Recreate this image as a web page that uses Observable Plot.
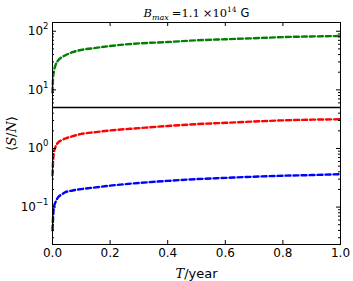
<!DOCTYPE html>
<html><head><meta charset="utf-8">
<script src="https://cdn.jsdelivr.net/npm/d3@7"></script>
<script src="https://cdn.jsdelivr.net/npm/@observablehq/plot@0.6"></script>
<style>
body{margin:0;background:#fff}
svg{display:block}
</style>
</head><body><div id="chart"></div>
<script>
// ---- data ----
const T = [0, 0.002, 0.005, 0.01, 0.02, 0.03, 0.045, 0.07, 0.1, 0.15, 0.2, 0.3, 0.4, 0.5, 0.6, 0.7, 0.8, 0.9, 1.0];
const snrGreen = [9, 16, 21, 26, 32, 35.5, 39, 44, 48, 52, 56, 62, 65.5, 70, 73, 76, 79.5, 81.5, 83];
const snrRed   = [0.35, 0.6, 0.85, 1.05, 1.27, 1.37, 1.48, 1.62, 1.77, 1.9, 2.03, 2.22, 2.42, 2.6, 2.74, 2.88, 3.02, 3.1, 3.15];
const snrBlue  = [0.04, 0.065, 0.1, 0.12, 0.148, 0.162, 0.18, 0.192, 0.203, 0.217, 0.232, 0.258, 0.28, 0.3, 0.315, 0.33, 0.343, 0.352, 0.365];
const threshold = 5;
const seriesNames = ["green", "red", "blue"];
const seriesColors = ["#008000", "#ff0000", "#0000ff"];
const xTicks = [0, 0.2, 0.4, 0.6, 0.8, 1.0];
const yTicks = [0.1, 1, 10, 100];
const yTickLabels = ["10^-1", "10^0", "10^1", "10^2"];
const yMinorTicks = [0.03,0.04,0.05,0.06,0.07,0.08,0.09,0.2,0.3,0.4,0.5,0.6,0.7,0.8,0.9,2,3,4,5,6,7,8,9,20,30,40,50,60,70,80,90];
const yDomain = [0.023, 141];
const xDomain = [0, 1];
const titleText = "B_max =1.1 ×10^14 G";
const xLabel = "T/year";
const yLabel = "⟨S/N⟩";

// ---- table ----
const rows = [];
[snrGreen, snrRed, snrBlue].forEach((vals, s) => {
  T.forEach((t, i) => rows.push({t, v: vals[i], series: seriesNames[s]}));
});

const W = 353, H = 281, mL = 52, mR = 13, mT = 22, mB = 37;
const innerW = W - mL - mR, innerH = H - mT - mB;
const major = 4, minor = 2;
const font = "DejaVu Sans, sans-serif";
const chart = Plot.plot({
  width: W, height: H,
  marginLeft: mL, marginRight: mR, marginTop: mT, marginBottom: mB,
  style: {fontFamily: font, fontSize: "12px", color: "#000", background: "#fff"},
  x: {domain: xDomain},
  y: {type: "log", domain: yDomain},
  color: {domain: seriesNames, range: seriesColors},
  marks: [
    Plot.ruleY([threshold], {stroke: "#000", strokeWidth: 1.5}),
    Plot.line(rows, {x: "t", y: "v", z: "series", stroke: "series", strokeWidth: 2.4, strokeDasharray: "5,3", curve: "monotone-x"}),
    // inward ticks on all four sides
    Plot.tickX(xTicks, {x: d => d, insetTop: innerH - major, stroke: "#000"}),
    Plot.tickX(xTicks, {x: d => d, insetBottom: innerH - major, stroke: "#000"}),
    Plot.tickY(yTicks, {y: d => d, insetRight: innerW - major, stroke: "#000"}),
    Plot.tickY(yTicks, {y: d => d, insetLeft: innerW - major, stroke: "#000"}),
    Plot.tickY(yMinorTicks, {y: d => d, insetRight: innerW - minor, stroke: "#000"}),
    Plot.tickY(yMinorTicks, {y: d => d, insetLeft: innerW - minor, stroke: "#000"}),
    Plot.frame({stroke: "#000", strokeWidth: 1}),
    // tick labels and axis titles
    Plot.axisX({ticks: xTicks, tickSize: 0, tickPadding: 4, tickFormat: d3.format(".1f"),
      label: xLabel, labelAnchor: "center", labelArrow: "none", labelOffset: 33, fontSize: 12}),
    Plot.axisY({ticks: yTicks, tickSize: 0, tickPadding: 4, tickFormat: (d) => yTickLabels[yTicks.indexOf(d)],
      label: yLabel, labelAnchor: "center", labelArrow: "none", labelOffset: 46, fontSize: 12}),
    Plot.text([titleText], {frameAnchor: "top", lineAnchor: "bottom", dy: -6, fontSize: 11.5})
  ]
});
document.getElementById("chart").appendChild(chart);

const svg = d3.select(chart);
// superscript tick labels
svg.selectAll('g[aria-label="y-axis tick label"] text').each(function() {
  const s = this.textContent;
  if (!s.includes("^")) return;
  const [base, exp] = s.split("^");
  const t = d3.select(this); t.text("");
  t.append("tspan").text(base);
  t.append("tspan").attr("dy", "-6px").attr("font-size", "8.5px").text(exp.replace("-", "\u2212"));
});
// y label with italic S, N
svg.selectAll('g[aria-label="y-axis label"] text').each(function() {
  const t = d3.select(this); t.text("").attr("font-size", "13px").attr("font-family", "DejaVu Serif, serif");
  t.append("tspan").text("⟨");
  t.append("tspan").attr("font-style", "italic").text("S");
  t.append("tspan").text("/");
  t.append("tspan").attr("font-style", "italic").text("N");
  t.append("tspan").text("⟩");
});
// x label with italic T
svg.selectAll('g[aria-label="x-axis label"] text').each(function() {
  const t = d3.select(this); t.text("").attr("font-size", "13px");
  t.append("tspan").attr("font-style", "italic").attr("font-family", "DejaVu Serif, serif").text("T");
  t.append("tspan").text("/year");
});
// title with subscript / superscript
svg.selectAll('g[aria-label="text"] text').each(function() {
  const t = d3.select(this); t.text("").attr("font-family", "DejaVu Serif, serif");
  t.append("tspan").attr("font-style", "italic").text("B");
  t.append("tspan").attr("font-style", "italic").attr("font-size", "8px").attr("dy", "3px").text("max");
  t.append("tspan").attr("dy", "-3px").attr("dx", "3px").text("=1.1");
  t.append("tspan").attr("dx", "3px").text("×10");
  t.append("tspan").attr("font-size", "7.5px").attr("dy", "-5px").text("14");
  t.append("tspan").attr("dy", "5px").attr("dx", "4px").attr("font-family", "DejaVu Sans, sans-serif").text("G");
});
</script>
</body></html>
